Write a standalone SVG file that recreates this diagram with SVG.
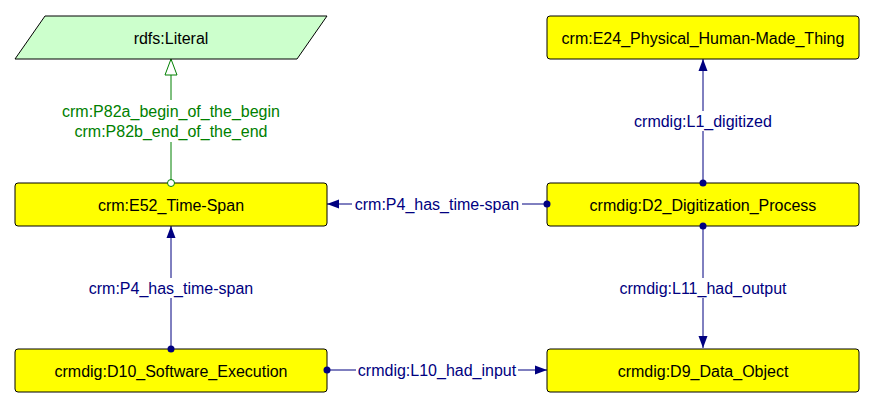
<svg xmlns="http://www.w3.org/2000/svg" width="875" height="408" viewBox="0 0 875 408">
<defs>
<marker id="arr" viewBox="0 0 12 12" refX="12" refY="6" markerWidth="12" markerHeight="12" markerUnits="userSpaceOnUse" orient="auto"><path d="M0,1.5 L12,6 L0,10.5 Z" fill="#000080"/></marker>
<marker id="hollow" viewBox="0 0 18 14" refX="17" refY="7" markerWidth="18" markerHeight="14" markerUnits="userSpaceOnUse" orient="auto"><path d="M1,1 L17,7 L1,13 Z" fill="#ffffff" stroke="#008000" stroke-width="1"/></marker>
</defs>
<style>
.node{fill:#ffff00;stroke:#000;stroke-width:1}
.lit{fill:#ccffcc;stroke:#000;stroke-width:1}
.t{font-family:"Liberation Sans",Arial,sans-serif;font-size:16px;fill:#000;text-anchor:middle;dominant-baseline:central}
.e{stroke:#000080;stroke-width:1;fill:none}
.eg{stroke:#008000;stroke-width:1;fill:none}
.l{font-family:"Liberation Sans",Arial,sans-serif;font-size:16px;fill:#000080;text-anchor:middle;dominant-baseline:central}
.lg{font-family:"Liberation Sans",Arial,sans-serif;font-size:16px;fill:#008000;text-anchor:middle;dominant-baseline:central}
.bg{fill:#ffffff}
</style>
<rect width="875" height="408" fill="#ffffff"/>
<g id="edges">
<g id="e-literal">
<line class="eg" x1="171" y1="180" x2="171" y2="59" marker-end="url(#hollow)"/>
<rect class="bg" x="58" y="100" width="226" height="42"/>
<text class="lg" x="171" y="111">crm:P82a_begin_of_the_begin</text>
<text class="lg" x="171" y="131">crm:P82b_end_of_the_end</text>
</g>
<g id="e-l1">
<line class="e" x1="703" y1="182" x2="703" y2="59" marker-end="url(#arr)"/>
<rect class="bg" x="632" y="111" width="142" height="20"/>
<text class="l" x="703" y="121">crmdig:L1_digitized</text>
</g>
<g id="e-p4a">
<line class="e" x1="547" y1="204" x2="327" y2="204" marker-end="url(#arr)"/>
<rect class="bg" x="352" y="195" width="170" height="18"/>
<text class="l" x="437" y="204">crm:P4_has_time-span</text>
</g>
<g id="e-l11">
<line class="e" x1="703" y1="226" x2="703" y2="348" marker-end="url(#arr)"/>
<rect class="bg" x="616" y="278" width="174" height="20"/>
<text class="l" x="703" y="288">crmdig:L11_had_output</text>
</g>
<g id="e-p4b">
<line class="e" x1="171" y1="348" x2="171" y2="226" marker-end="url(#arr)"/>
<rect class="bg" x="86" y="278" width="170" height="20"/>
<text class="l" x="171" y="288">crm:P4_has_time-span</text>
</g>
<g id="e-l10">
<line class="e" x1="327" y1="370" x2="547" y2="370" marker-end="url(#arr)"/>
<rect class="bg" x="356" y="361" width="162" height="18"/>
<text class="l" x="437" y="370">crmdig:L10_had_input</text>
</g>
</g>
<g id="rdfs-literal">
<polygon class="lit" points="45,16 327,16 297,59 15,59"/>
<text class="t" x="171" y="38">rdfs:Literal</text>
</g>
<g id="e24">
<rect class="node" x="547" y="16" width="312" height="43" rx="3"/>
<text class="t" x="703" y="38">crm:E24_Physical_Human-Made_Thing</text>
</g>
<g id="e52">
<rect class="node" x="15" y="183" width="312" height="43" rx="3"/>
<text class="t" x="171" y="205">crm:E52_Time-Span</text>
</g>
<g id="d2">
<rect class="node" x="547" y="183" width="312" height="43" rx="3"/>
<text class="t" x="703" y="205">crmdig:D2_Digitization_Process</text>
</g>
<g id="d10">
<rect class="node" x="15" y="349" width="312" height="43" rx="3"/>
<text class="t" x="171" y="371">crmdig:D10_Software_Execution</text>
</g>
<g id="d9">
<rect class="node" x="547" y="349" width="312" height="43" rx="3"/>
<text class="t" x="703" y="371">crmdig:D9_Data_Object</text>
</g>
<g id="dots">
<circle cx="171" cy="183" r="3.5" fill="#ffffff" stroke="#008000"/>
<circle cx="703" cy="183" r="3.5" fill="#000080"/>
<circle cx="547" cy="204" r="3.5" fill="#000080"/>
<circle cx="703" cy="226" r="3.5" fill="#000080"/>
<circle cx="171" cy="349" r="3.5" fill="#000080"/>
<circle cx="327" cy="370" r="3.5" fill="#000080"/>
</g>
</svg>
